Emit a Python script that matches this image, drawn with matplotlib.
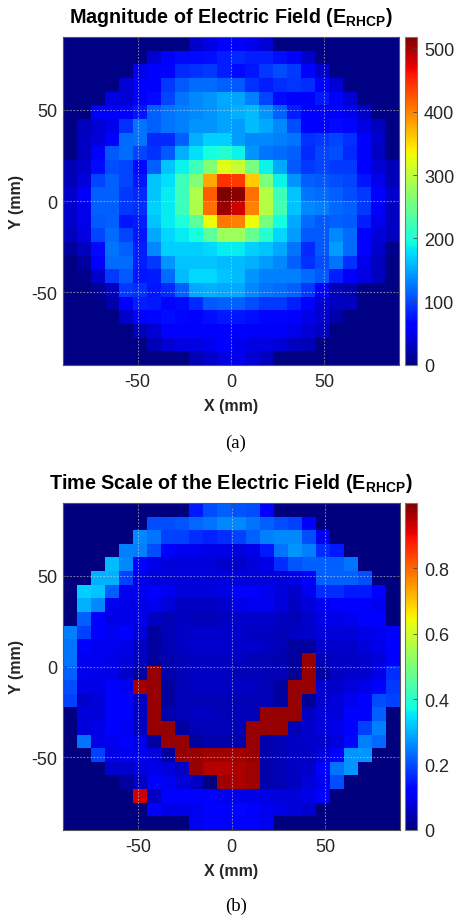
import numpy as np
import matplotlib
matplotlib.use('Agg')
import matplotlib.pyplot as plt

plt.rcParams['font.family'] = ['Liberation Sans', 'DejaVu Sans']
plt.rcParams['mathtext.fontset'] = 'custom'
plt.rcParams['mathtext.rm'] = 'Liberation Sans'
plt.rcParams['mathtext.bf'] = 'Liberation Sans:bold'

# ---------------- data ----------------
axis_extent_mm = [-90, 90, -90, 90]
ticks_mm = [-50, 0, 50]
cbar_ticks_a = [0, 100, 200, 300, 400, 500]
cbar_ticks_b = [0, 0.2, 0.4, 0.6, 0.8]
vmax_a = 518
vmax_b = 1.0

title_a = r'Magnitude of Electric Field (E$_{\mathbf{RHCP}}$)'
title_b = r'Time Scale of the Electric Field (E$_{\mathbf{RHCP}}$)'
caption_a = '(a)'
caption_b = '(b)'

# Magnitude of E_RHCP, rows from top (Y=+90) to bottom, columns X=-90..+90
E_mag = [
    [3,3,3,3,3,3,3,3,3,35,45,60,65,50,40,3,3,3,3,3,3,3,3,3],
    [3,3,3,3,3,3,40,58,70,70,72,80,85,80,80,72,60,35,3,3,3,3,3,3],
    [3,3,3,3,3,50,60,65,85,90,95,80,70,75,95,105,95,60,35,3,3,3,3,3],
    [3,3,3,3,40,58,65,95,110,120,120,115,110,90,80,88,92,88,62,40,3,3,3,3],
    [3,3,3,45,40,55,70,100,125,135,140,150,148,130,100,70,60,65,78,60,38,3,3,3],
    [3,3,55,55,55,75,115,125,130,135,140,148,155,160,140,115,80,65,58,62,52,35,3,3],
    [3,30,40,50,90,125,115,125,130,140,140,148,145,160,150,135,105,65,58,70,68,45,30,3],
    [3,32,42,62,120,125,85,85,115,155,170,170,145,135,135,130,125,90,95,100,90,58,35,3],
    [3,32,58,110,120,100,90,110,155,180,195,205,190,140,125,120,115,85,100,105,85,60,32,3],
    [25,35,70,105,100,70,115,165,190,220,265,320,305,255,190,150,110,95,100,95,95,65,40,25],
    [28,42,100,115,100,75,165,180,220,265,380,445,440,360,260,190,140,115,110,105,100,75,50,28],
    [35,55,115,115,95,85,165,185,220,290,420,518,512,410,295,220,165,125,120,115,105,95,60,35],
    [35,50,115,115,95,90,170,185,220,290,410,505,480,400,295,225,165,135,130,118,115,95,55,30],
    [35,50,110,115,75,80,165,185,200,240,330,405,400,330,255,195,150,120,110,115,110,80,50,32],
    [30,45,100,120,100,75,150,175,185,195,240,280,280,245,205,175,145,110,110,135,120,65,42,30],
    [15,30,70,125,115,80,135,170,170,170,175,185,185,170,165,150,125,85,110,145,120,60,35,8],
    [3,15,60,120,120,80,95,140,165,165,165,160,160,155,145,135,115,90,105,125,90,50,30,3],
    [3,8,35,95,110,75,78,120,160,175,175,165,160,140,130,130,130,120,110,80,55,45,30,3],
    [3,3,12,30,95,90,75,85,115,150,155,150,150,135,125,120,115,95,60,25,22,3,3,3],
    [3,3,3,20,60,80,78,68,70,85,110,115,115,105,95,95,80,60,40,32,30,3,3,3],
    [3,3,3,3,35,62,68,72,68,58,72,78,75,72,68,68,60,48,38,20,3,3,3,3],
    [3,3,3,3,3,25,40,62,65,58,58,62,60,55,55,55,50,40,32,3,3,3,3,3],
    [3,3,3,3,3,3,25,40,45,45,52,58,52,45,45,40,30,25,3,3,3,3,3,3],
    [3,3,3,3,3,3,3,3,3,25,35,45,50,40,30,3,3,3,3,3,3,3,3,3],
]

# Time scale of E_RHCP, same grid
E_time = [
    [0,0,0,0,0,0,0,0,0,.15,.20,.22,.21,.20,.12,0,0,0,0,0,0,0,0,0],
    [0,0,0,0,0,0,.20,.20,.21,.23,.24,.26,.26,.24,.22,.20,.19,.12,0,0,0,0,0,0],
    [0,0,0,0,0,.26,.24,.19,.19,.17,.16,.17,.19,.22,.25,.26,.26,.20,.10,0,0,0,0,0],
    [0,0,0,0,.25,.25,.20,.11,.10,.10,.09,.09,.08,.09,.15,.24,.27,.25,.17,.15,0,0,0,0],
    [0,0,0,.31,.26,.12,.09,.08,.08,.08,.08,.07,.07,.08,.09,.17,.21,.22,.22,.22,.24,0,0,0],
    [0,0,.30,.30,.19,.09,.08,.08,.08,.08,.08,.08,.08,.08,.08,.08,.09,.11,.22,.22,.22,.20,0,0],
    [0,.33,.32,.22,.10,.10,.11,.10,.08,.08,.08,.09,.11,.11,.10,.08,.07,.10,.17,.17,.15,.15,.11,0],
    [0,.30,.26,.10,.09,.09,.10,.08,.06,.06,.06,.07,.09,.10,.10,.08,.06,.08,.10,.11,.12,.12,.10,0],
    [0,.22,.12,.09,.09,.09,.06,.05,.06,.05,.05,.06,.07,.07,.07,.06,.05,.07,.09,.09,.10,.11,.11,0],
    [.25,.19,.12,.10,.11,.08,.03,.05,.06,.07,.07,.07,.07,.06,.06,.05,.06,.07,.08,.08,.08,.09,.10,.12],
    [.24,.11,.10,.10,.09,.06,.03,.05,.06,.07,.07,.07,.07,.07,.06,.05,.03,.03,.07,.07,.07,.08,.09,.11],
    [.24,.10,.10,.09,.08,.06,.03,.04,.05,.06,.06,.06,.06,.05,.05,.04,.03,.98,.05,.06,.06,.07,.08,.12],
    [.22,.10,.09,.09,.07,.03,.98,.04,.05,.06,.06,.06,.05,.05,.05,.05,.02,.98,.03,.06,.07,.07,.09,.17],
    [.20,.09,.09,.11,.10,.97,.98,.03,.05,.06,.06,.06,.06,.06,.05,.03,.98,.98,.07,.07,.08,.09,.12,.18],
    [.19,.07,.08,.11,.11,.06,.98,.03,.05,.05,.05,.05,.05,.05,.05,.03,.98,.02,.07,.08,.10,.11,.20,.19],
    [0,.08,.08,.11,.11,.06,.98,.04,.05,.06,.06,.05,.05,.05,.98,.98,.98,.06,.08,.08,.11,.12,.22,0],
    [0,.08,.09,.11,.10,.06,.98,.98,.03,.05,.05,.05,.05,.98,.98,.98,.05,.07,.08,.09,.11,.19,.25,0],
    [0,.24,.09,.10,.11,.09,.03,.98,.98,.03,.04,.04,.04,.98,.04,.05,.06,.07,.07,.08,.13,.25,.23,0],
    [0,0,.19,.09,.10,.10,.08,.03,.98,.98,.97,.97,.97,.98,.04,.05,.06,.06,.08,.12,.27,.27,0,0],
    [0,0,0,.07,.07,.08,.09,.08,.06,.98,.95,.95,.96,.97,.04,.05,.06,.07,.11,.24,.27,0,0,0],
    [0,0,0,0,.03,.06,.11,.10,.08,.06,0,.97,.96,.97,.04,.05,.06,.08,.10,.20,0,0,0,0],
    [0,0,0,0,0,.93,.06,.11,.11,.11,.12,.10,.09,.09,.09,.08,.08,.09,.11,0,0,0,0,0],
    [0,0,0,0,0,0,.11,.09,.09,.10,.12,.12,.13,.12,.10,.09,.08,.07,0,0,0,0,0,0],
    [0,0,0,0,0,0,0,0,0,.10,.11,.12,.12,.11,.10,0,0,0,0,0,0,0,0,0],
]

for M in (E_mag, E_time):
    assert len(M) == 24 and all(len(r) == 24 for r in M)

# ---------------- figure ----------------
W, H = 454, 920
fig = plt.figure(figsize=(W / 100, H / 100), dpi=100)


def box(l, t, r, b):
    return [l / W, 1 - b / H, (r - l) / W, (b - t) / H]


txt_col = '#262626'


def panel(ax_box, cax_box, data, vmax, cticks, title, title_y, caption, cap_y, cfmt):
    ax = fig.add_axes(box(*ax_box))
    cax = fig.add_axes(box(*cax_box))
    im = ax.imshow(np.array(data, dtype=float), cmap='jet', vmin=0, vmax=vmax,
                   extent=axis_extent_mm, origin='upper', aspect='auto',
                   interpolation='nearest')
    ax.set_xlim(axis_extent_mm[0], axis_extent_mm[1])
    ax.set_ylim(axis_extent_mm[2], axis_extent_mm[3])
    ax.set_xticks(ticks_mm)
    ax.set_yticks(ticks_mm)
    ax.set_xticklabels([str(t) for t in ticks_mm])
    ax.set_yticklabels([str(t) for t in ticks_mm])
    ax.tick_params(direction='in', length=3, width=0.6, top=True, right=True,
                   labelsize=13, labelcolor=txt_col, color='#444444')
    ax.tick_params(axis='x', pad=6)
    ax.tick_params(axis='y', pad=4)
    ax.grid(True, color='#d0d0e0', alpha=0.6, linestyle=(0, (1.5, 1.5)), linewidth=0.8)
    ax.set_axisbelow(False)
    for s in ax.spines.values():
        s.set_color('#555555')
        s.set_linewidth(0.8)
    ax.set_xlabel('X (mm)', fontsize=11.5, fontweight='bold', color=txt_col, va='center')
    ax.set_ylabel('Y (mm)', fontsize=11.5, fontweight='bold', color=txt_col, va='center')
    ax_h = ax_box[3] - ax_box[1]
    ax_w = ax_box[2] - ax_box[0]
    ax.xaxis.set_label_coords(0.5, -(41) / ax_h)
    ax.yaxis.set_label_coords(-(63 - 17) / ax_w, 0.5)

    cb = fig.colorbar(im, cax=cax, ticks=cticks)
    cb.ax.set_yticklabels([cfmt(t) for t in cticks])
    cb.ax.tick_params(direction='in', length=3, width=0.6, labelsize=13,
                      labelcolor=txt_col, color='#444444', pad=5)
    cb.outline.set_edgecolor('#777777')
    cb.outline.set_linewidth(0.8)

    fig.text(231 / W, 1 - title_y / H, title, ha='center', va='baseline',
             fontsize=14.2, fontweight='bold', color='black')
    fig.text(236 / W, 1 - cap_y / H, caption, ha='center', va='center',
             fontsize=13.5, family='Liberation Serif', color='black')
    return ax


panel((63, 38, 399, 366), (405, 38, 417, 366), E_mag, vmax_a, cbar_ticks_a,
      title_a, 23, caption_a, 443, lambda t: f'{t:g}')
panel((63, 504, 400, 831), (405, 504, 417, 831), E_time, vmax_b, cbar_ticks_b,
      title_b, 489, caption_b, 906, lambda t: f'{t:g}')

fig.savefig('out.png', dpi=100)
